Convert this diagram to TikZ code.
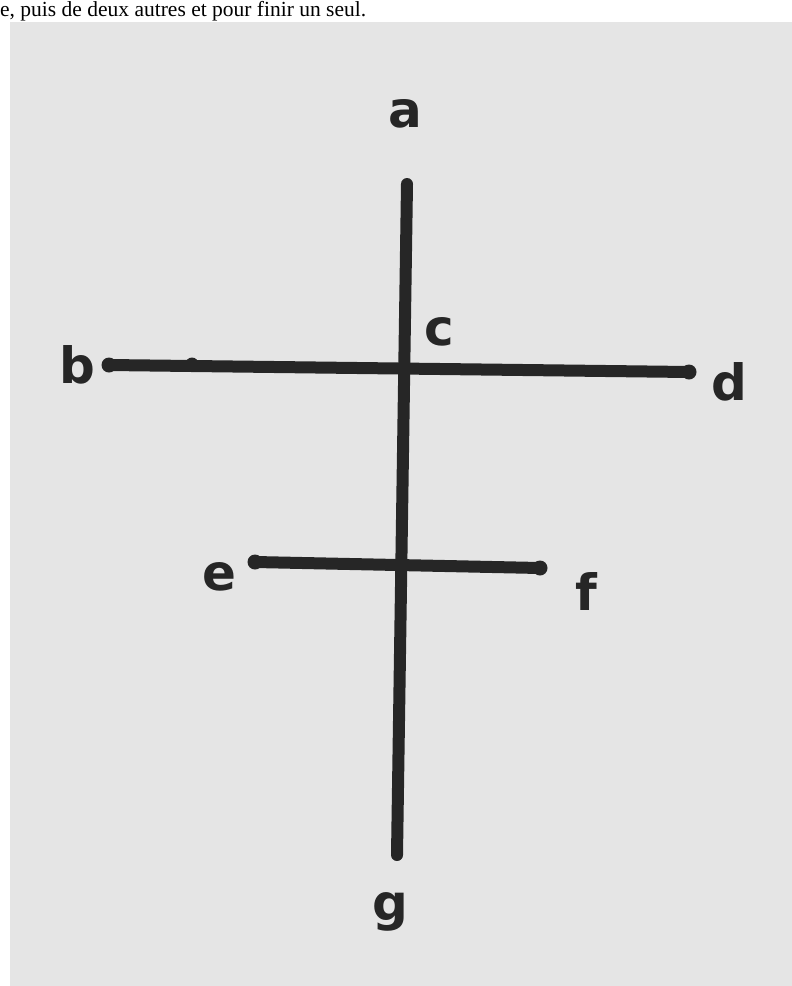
\documentclass[tikz,border=0pt]{standalone}
\usepackage{fontspec}
\setmainfont{Liberation Serif}
\newfontfamily\lblfont{DejaVu Sans}
\definecolor{paper}{HTML}{E5E5E5}
\definecolor{ink}{HTML}{262626}
\begin{document}
\begin{tikzpicture}[x=1pt,y=-1pt,
  bar/.style={draw=ink,line width=12pt,line cap=round},
  lbl/.style={font=\lblfont\bfseries\fontsize{50}{50}\selectfont,text=ink,inner sep=0pt,anchor=base},
  enddot/.style={fill=ink,circle,inner sep=0pt,minimum size=15pt}]
\useasboundingbox (0,0) rectangle (792,986);
\fill[white] (0,0) rectangle (792,986);
\fill[paper] (10,22) rectangle (792,986);
\node[anchor=base west, inner sep=0pt, font=\fontsize{21.5}{21.5}\selectfont] (caption) at (0,16) {e, puis de deux autres et pour finir un seul.};
% end points
\coordinate (A) at (407,184);
\coordinate (G) at (397,855);
\coordinate (B) at (109,365);
\coordinate (D) at (689,372);
\coordinate (E) at (255,562);
\coordinate (F) at (540,568);
\coordinate (K) at (192,364);
% bars
\draw[bar] (A) -- (G);
\draw[bar] (B) -- (D);
\draw[bar] (E) -- (F);
% end dots
\node[enddot] (dB) at (B) {};
\node[enddot] (dD) at (D) {};
\node[enddot] (dE) at (E) {};
\node[enddot] (dF) at (F) {};
\node[enddot,minimum size=13pt] (dK) at (K) {};
% labels
\node[lbl] (la) at (405,127) {a};
\node[lbl] (lb) at (77,383) {b};
\node[lbl] (lc) at (439,345) {c};
\node[lbl] (ld) at (729,400) {d};
\node[lbl] (le) at (219,590) {e};
\node[lbl] (lf) at (586,610) {f};
\node[lbl] (lg) at (390,920) {g};
\end{tikzpicture}
\end{document}
